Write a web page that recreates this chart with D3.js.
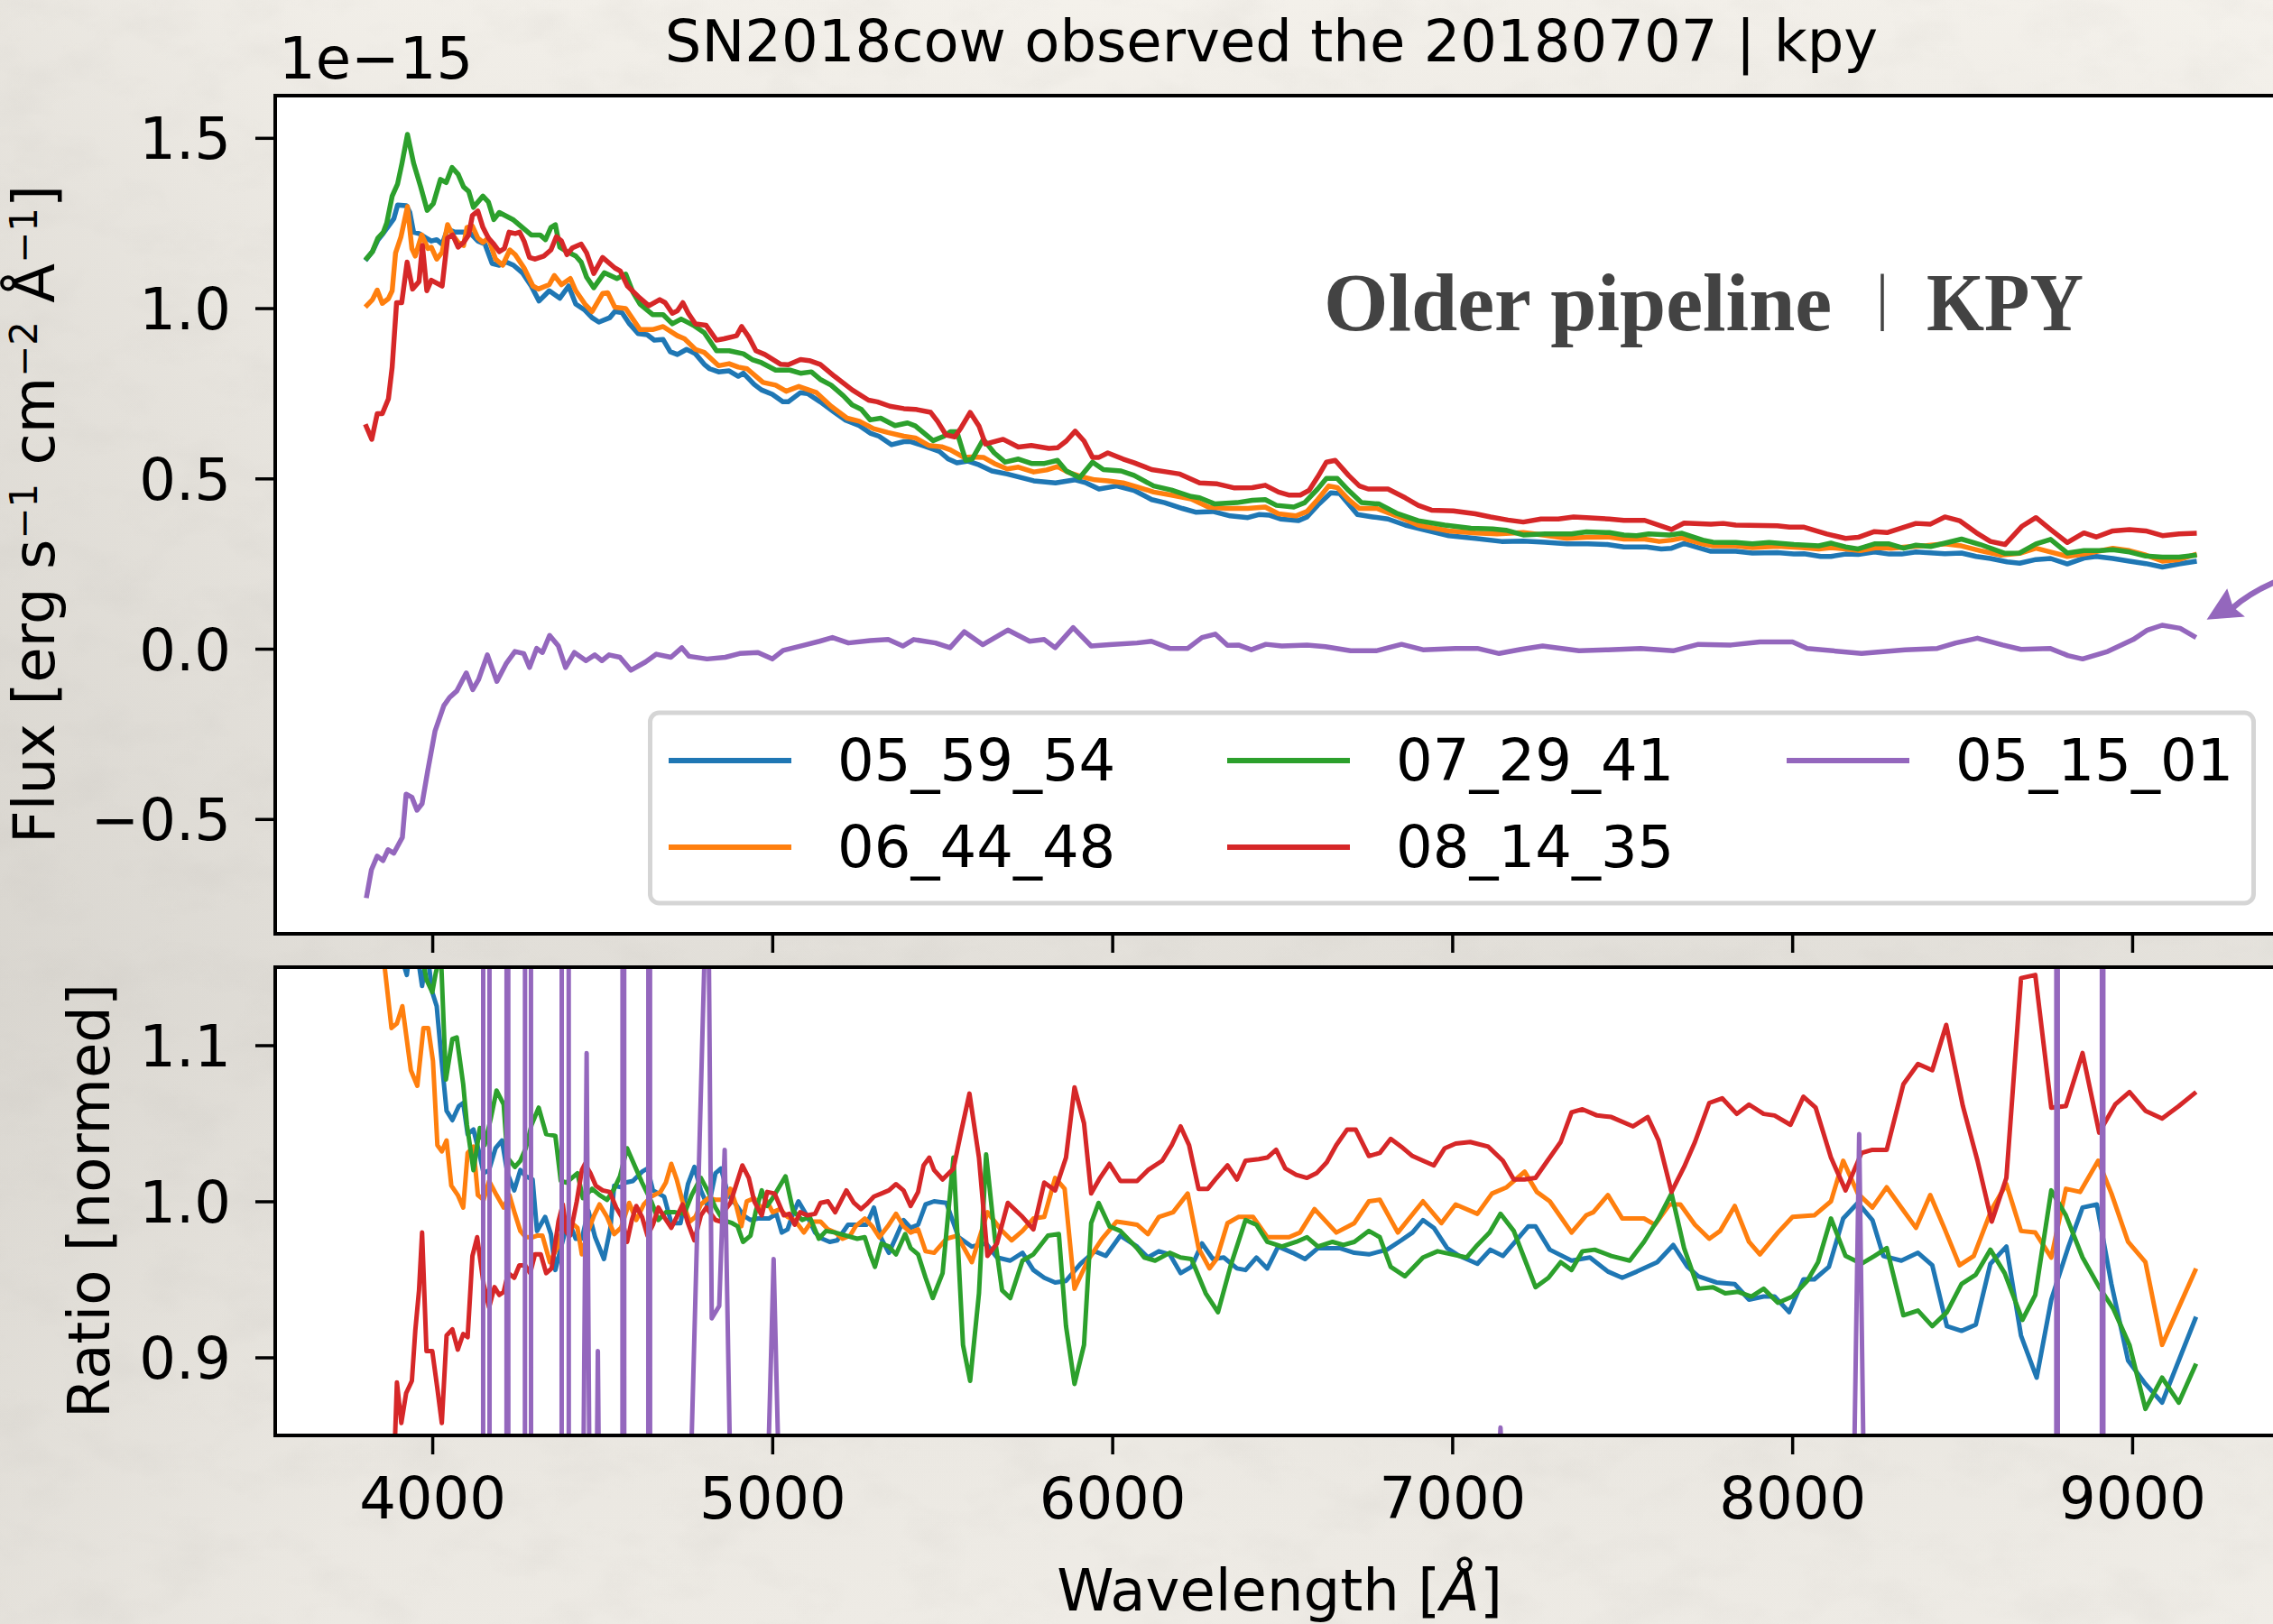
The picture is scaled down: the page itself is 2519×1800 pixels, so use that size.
<!DOCTYPE html>
<html>
<head>
<meta charset="utf-8">
<script src="https://cdn.jsdelivr.net/npm/d3@7"></script>
<style>
  html, body { margin: 0; padding: 0; background: #eae7e1; }
  svg { display: block; }
</style>
</head>
<body>
<svg id="fig" width="2519" height="1800"></svg>
<script>
// ---------------------------------------------------------------
// SN2018cow, KPY reductions of 2018-07-07: flux (1e-15 cgs) and
// ratio-to-mean for five exposures. Each entry is [wavelength Å, value].
// ---------------------------------------------------------------
const labels = ["05_59_54", "06_44_48", "07_29_41", "08_14_35", "05_15_01"];
const colors = ["#1f77b4", "#ff7f0e", "#2ca02c", "#d62728", "#9467bd"];

const flux_055954 = [[3803,1.140],[3824,1.166],[3840,1.200],[3856,1.220],[3871,1.241],[3887,1.263],[3898,1.303],[3924,1.301],[3934,1.281],[3945,1.223],[3961,1.219],[3982,1.206],[3997,1.197],[4013,1.201],[4029,1.188],[4045,1.232],[4066,1.223],[4092,1.223],[4113,1.219],[4134,1.197],[4155,1.188],[4176,1.131],[4197,1.126],[4218,1.135],[4239,1.126],[4265,1.104],[4291,1.065],[4314,1.021],[4344,1.051],[4375,1.029],[4401,1.065],[4422,1.012],[4449,0.994],[4470,0.972],[4490,0.959],[4522,0.972],[4537,0.990],[4558,0.987],[4580,0.954],[4606,0.925],[4632,0.922],[4653,0.906],[4679,0.908],[4700,0.872],[4721,0.864],[4748,0.879],[4774,0.866],[4800,0.835],[4816,0.822],[4842,0.813],[4873,0.816],[4900,0.800],[4915,0.809],[4947,0.776],[4968,0.760],[5000,0.747],[5031,0.725],[5047,0.725],[5083,0.752],[5104,0.749],[5141,0.725],[5183,0.694],[5214,0.672],[5256,0.655],[5288,0.633],[5314,0.624],[5351,0.599],[5387,0.608],[5408,0.608],[5453,0.593],[5492,0.579],[5518,0.557],[5543,0.546],[5576,0.551],[5608,0.540],[5646,0.522],[5691,0.513],[5769,0.493],[5833,0.487],[5891,0.496],[5923,0.487],[5961,0.469],[6013,0.478],[6064,0.465],[6116,0.438],[6154,0.429],[6206,0.412],[6245,0.401],[6296,0.403],[6347,0.390],[6399,0.385],[6431,0.394],[6463,0.392],[6495,0.381],[6547,0.376],[6573,0.387],[6604,0.421],[6643,0.458],[6669,0.456],[6721,0.394],[6766,0.387],[6811,0.381],[6862,0.363],[6913,0.350],[6990,0.332],[7068,0.324],[7145,0.315],[7209,0.316],[7273,0.313],[7338,0.308],[7399,0.308],[7456,0.306],[7505,0.299],[7572,0.299],[7615,0.293],[7645,0.295],[7682,0.309],[7761,0.286],[7834,0.286],[7883,0.281],[7956,0.282],[8005,0.278],[8035,0.279],[8084,0.271],[8114,0.271],[8157,0.278],[8194,0.277],[8242,0.284],[8285,0.278],[8322,0.278],[8364,0.284],[8449,0.279],[8498,0.281],[8541,0.271],[8583,0.265],[8632,0.255],[8669,0.251],[8717,0.262],[8760,0.265],[8809,0.249],[8858,0.266],[8894,0.271],[8943,0.265],[8992,0.257],[9040,0.250],[9089,0.240],[9138,0.249],[9190,0.257]];

const flux_064448 = [[3803,1.003],[3824,1.025],[3838,1.053],[3853,1.014],[3871,1.028],[3882,1.051],[3892,1.162],[3908,1.210],[3927,1.298],[3940,1.175],[3950,1.153],[3969,1.215],[3987,1.175],[3997,1.179],[4013,1.144],[4029,1.164],[4045,1.245],[4060,1.215],[4076,1.193],[4092,1.184],[4102,1.237],[4118,1.241],[4134,1.206],[4149,1.193],[4165,1.206],[4186,1.144],[4207,1.126],[4228,1.171],[4244,1.157],[4270,1.118],[4296,1.065],[4312,1.056],[4344,1.069],[4359,1.096],[4380,1.069],[4406,1.087],[4422,1.051],[4449,1.012],[4470,0.990],[4501,1.043],[4516,1.045],[4537,1.003],[4569,0.999],[4611,0.937],[4648,0.937],[4679,0.946],[4721,0.919],[4742,0.910],[4774,0.879],[4800,0.870],[4842,0.831],[4873,0.837],[4900,0.827],[4926,0.822],[4973,0.782],[5010,0.774],[5041,0.756],[5078,0.770],[5130,0.752],[5173,0.712],[5220,0.677],[5256,0.668],[5298,0.646],[5340,0.635],[5387,0.624],[5421,0.619],[5460,0.597],[5498,0.593],[5524,0.584],[5563,0.562],[5588,0.563],[5621,0.562],[5653,0.544],[5691,0.528],[5724,0.533],[5769,0.519],[5807,0.525],[5839,0.535],[5871,0.518],[5910,0.505],[5949,0.496],[5987,0.493],[6032,0.487],[6077,0.474],[6122,0.460],[6174,0.451],[6232,0.440],[6283,0.416],[6335,0.412],[6399,0.412],[6450,0.416],[6489,0.396],[6540,0.390],[6573,0.403],[6604,0.438],[6637,0.478],[6662,0.473],[6695,0.438],[6727,0.412],[6778,0.412],[6836,0.390],[6900,0.363],[6990,0.346],[7068,0.340],[7132,0.337],[7209,0.341],[7273,0.333],[7338,0.324],[7395,0.327],[7462,0.328],[7505,0.322],[7566,0.322],[7609,0.315],[7645,0.319],[7676,0.325],[7737,0.308],[7767,0.302],[7834,0.302],[7883,0.297],[7956,0.301],[8029,0.297],[8078,0.293],[8114,0.297],[8157,0.293],[8200,0.288],[8248,0.297],[8291,0.295],[8334,0.299],[8395,0.303],[8449,0.308],[8498,0.302],[8553,0.288],[8614,0.275],[8669,0.280],[8717,0.295],[8760,0.284],[8809,0.271],[8858,0.278],[8943,0.295],[8992,0.288],[9040,0.275],[9089,0.257],[9138,0.262],[9190,0.278]];

const flux_072941 = [[3803,1.141],[3824,1.166],[3840,1.206],[3856,1.223],[3866,1.250],[3882,1.329],[3898,1.365],[3911,1.426],[3927,1.510],[3945,1.426],[3966,1.356],[3985,1.287],[4003,1.307],[4024,1.378],[4041,1.369],[4058,1.413],[4076,1.393],[4092,1.356],[4107,1.343],[4121,1.296],[4149,1.329],[4165,1.312],[4181,1.260],[4197,1.281],[4239,1.259],[4265,1.237],[4291,1.215],[4317,1.215],[4333,1.201],[4349,1.237],[4362,1.245],[4375,1.179],[4396,1.166],[4422,1.153],[4438,1.135],[4454,1.091],[4475,1.060],[4506,1.104],[4543,1.087],[4569,1.100],[4590,1.047],[4611,1.012],[4648,0.981],[4679,0.981],[4706,0.954],[4732,0.968],[4768,0.950],[4800,0.928],[4836,0.875],[4873,0.875],[4915,0.866],[4941,0.849],[4968,0.840],[5010,0.818],[5052,0.818],[5083,0.809],[5115,0.813],[5141,0.791],[5173,0.774],[5209,0.743],[5235,0.716],[5262,0.703],[5288,0.672],[5319,0.677],[5361,0.655],[5398,0.663],[5421,0.654],[5473,0.611],[5505,0.624],[5524,0.637],[5543,0.637],[5569,0.553],[5588,0.557],[5621,0.615],[5653,0.575],[5685,0.548],[5724,0.557],[5762,0.544],[5801,0.544],[5839,0.553],[5865,0.522],[5904,0.502],[5942,0.548],[5974,0.526],[6026,0.522],[6064,0.509],[6122,0.478],[6174,0.466],[6232,0.447],[6257,0.443],[6302,0.425],[6367,0.429],[6412,0.436],[6450,0.438],[6483,0.421],[6534,0.416],[6566,0.429],[6604,0.469],[6630,0.500],[6662,0.500],[6695,0.465],[6733,0.429],[6785,0.425],[6836,0.398],[6900,0.376],[6978,0.363],[7055,0.354],[7119,0.352],[7158,0.348],[7209,0.334],[7273,0.337],[7351,0.337],[7395,0.343],[7462,0.341],[7505,0.334],[7542,0.332],[7578,0.337],[7639,0.334],[7676,0.339],[7737,0.319],[7767,0.313],[7834,0.312],[7883,0.308],[7932,0.312],[8005,0.306],[8078,0.302],[8114,0.310],[8157,0.299],[8194,0.293],[8242,0.308],[8285,0.308],[8328,0.295],[8364,0.304],[8407,0.300],[8449,0.310],[8498,0.322],[8553,0.306],[8626,0.280],[8669,0.281],[8717,0.308],[8760,0.321],[8809,0.281],[8858,0.288],[8906,0.288],[8943,0.291],[8992,0.284],[9040,0.272],[9089,0.269],[9138,0.269],[9190,0.275]];

const flux_081435 = [[3803,0.659],[3822,0.615],[3838,0.690],[3853,0.690],[3871,0.734],[3882,0.827],[3895,1.016],[3910,1.016],[3926,1.135],[3942,1.056],[3961,1.078],[3971,1.184],[3984,1.051],[3997,1.082],[4029,1.065],[4045,1.206],[4060,1.215],[4076,1.179],[4092,1.193],[4107,1.215],[4118,1.272],[4134,1.285],[4149,1.237],[4165,1.206],[4181,1.188],[4197,1.166],[4212,1.175],[4226,1.223],[4244,1.219],[4257,1.223],[4270,1.197],[4286,1.149],[4302,1.144],[4328,1.153],[4349,1.171],[4365,1.210],[4380,1.197],[4396,1.157],[4412,1.177],[4438,1.188],[4454,1.162],[4475,1.102],[4501,1.149],[4537,1.118],[4553,1.109],[4574,1.065],[4606,1.034],[4637,1.007],[4669,1.025],[4685,1.016],[4706,0.985],[4721,0.992],[4737,1.016],[4753,0.985],[4774,0.954],[4805,0.950],[4836,0.906],[4858,0.910],[4895,0.919],[4910,0.946],[4931,0.915],[4952,0.875],[4978,0.864],[5025,0.835],[5047,0.834],[5083,0.849],[5109,0.846],[5141,0.835],[5183,0.800],[5235,0.760],[5283,0.730],[5309,0.725],[5346,0.712],[5387,0.705],[5421,0.703],[5466,0.694],[5486,0.668],[5511,0.628],[5537,0.622],[5556,0.650],[5582,0.694],[5608,0.654],[5627,0.601],[5679,0.615],[5724,0.592],[5762,0.597],[5814,0.588],[5839,0.590],[5865,0.610],[5891,0.639],[5917,0.610],[5942,0.562],[5961,0.562],[5987,0.575],[6032,0.557],[6064,0.546],[6116,0.526],[6161,0.519],[6199,0.513],[6257,0.487],[6309,0.484],[6360,0.472],[6412,0.473],[6450,0.480],[6489,0.460],[6521,0.451],[6553,0.451],[6579,0.465],[6604,0.504],[6630,0.548],[6656,0.553],[6695,0.509],[6727,0.478],[6753,0.469],[6811,0.469],[6862,0.443],[6900,0.421],[6939,0.407],[7003,0.405],[7068,0.396],[7113,0.387],[7164,0.378],[7209,0.372],[7261,0.381],[7312,0.381],[7357,0.387],[7395,0.385],[7462,0.381],[7505,0.377],[7566,0.377],[7645,0.350],[7682,0.369],[7761,0.366],[7797,0.368],[7834,0.363],[7956,0.361],[7992,0.357],[8035,0.357],[8102,0.337],[8157,0.324],[8194,0.327],[8242,0.344],[8279,0.341],[8364,0.368],[8407,0.366],[8449,0.387],[8492,0.376],[8541,0.341],[8583,0.315],[8626,0.306],[8675,0.359],[8717,0.385],[8760,0.350],[8809,0.312],[8858,0.340],[8894,0.328],[8943,0.346],[8992,0.350],[9040,0.346],[9089,0.332],[9138,0.337],[9190,0.339]];

const flux_051501 = [[3806,-0.732],[3821,-0.649],[3838,-0.609],[3855,-0.622],[3870,-0.590],[3887,-0.600],[3912,-0.554],[3923,-0.427],[3940,-0.436],[3955,-0.474],[3970,-0.455],[3987,-0.356],[4008,-0.242],[4034,-0.167],[4051,-0.143],[4072,-0.124],[4100,-0.071],[4119,-0.120],[4136,-0.091],[4162,-0.018],[4190,-0.096],[4217,-0.044],[4243,-0.008],[4269,-0.014],[4286,-0.055],[4307,0.001],[4324,-0.011],[4345,0.039],[4371,0.008],[4392,-0.055],[4418,-0.011],[4452,-0.035],[4478,-0.018],[4499,-0.035],[4520,-0.018],[4552,-0.025],[4584,-0.063],[4627,-0.039],[4659,-0.016],[4702,-0.025],[4734,0.003],[4755,-0.022],[4808,-0.030],[4862,-0.025],[4904,-0.014],[4958,-0.011],[5000,-0.030],[5032,-0.005],[5096,0.011],[5139,0.022],[5177,0.033],[5224,0.017],[5288,0.024],[5341,0.027],[5384,0.008],[5416,0.027],[5480,0.017],[5523,0.003],[5565,0.050],[5619,0.012],[5693,0.055],[5757,0.022],[5800,0.027],[5832,0.003],[5885,0.062],[5938,0.008],[5992,0.012],[6073,0.017],[6115,0.022],[6169,0.001],[6222,0.001],[6264,0.033],[6303,0.043],[6339,0.010],[6371,0.011],[6409,-0.003],[6452,0.013],[6499,0.008],[6573,0.011],[6627,0.006],[6701,-0.006],[6776,-0.006],[6851,0.013],[6914,-0.003],[7010,0.001],[7074,0.001],[7138,-0.014],[7202,-0.002],[7266,0.008],[7373,-0.006],[7458,-0.003],[7554,0.001],[7650,-0.006],[7724,0.013],[7820,0.011],[7905,0.020],[8001,0.020],[8044,0.001],[8204,-0.014],[8332,-0.003],[8427,0.001],[8481,0.017],[8545,0.031],[8619,0.011],[8673,-0.002],[8758,0.001],[8811,-0.020],[8854,-0.030],[8928,-0.008],[9003,0.027],[9045,0.055],[9088,0.069],[9141,0.060],[9188,0.033]];

const ratio_055954 = [[3803,1.250],[3824,1.220],[3840,1.200],[3856,1.190],[3871,1.180],[3887,1.170],[3905,1.160],[3925,1.145],[3940,1.170],[3955,1.160],[3970,1.138],[3985,1.160],[4000,1.134],[4013,1.125],[4028,1.089],[4042,1.058],[4059,1.052],[4078,1.061],[4091,1.063],[4104,1.043],[4121,1.046],[4137,1.032],[4151,1.018],[4167,1.020],[4186,1.034],[4205,1.039],[4221,1.018],[4241,1.007],[4259,1.020],[4275,1.016],[4295,1.014],[4308,0.981],[4332,0.990],[4349,0.979],[4362,0.956],[4378,0.970],[4400,0.988],[4422,0.976],[4440,0.976],[4459,0.994],[4479,0.977],[4505,0.963],[4524,0.983],[4535,1.010],[4555,1.009],[4568,1.012],[4590,1.013],[4617,1.019],[4633,1.021],[4649,1.007],[4682,1.003],[4703,0.986],[4730,0.986],[4752,1.011],[4771,1.022],[4790,1.007],[4812,0.996],[4833,1.018],[4849,1.021],[4871,1.004],[4893,0.998],[4915,0.991],[4936,0.988],[4958,0.989],[4990,0.989],[5012,0.992],[5028,0.980],[5045,0.982],[5061,0.992],[5077,1.000],[5104,0.990],[5126,0.980],[5147,0.976],[5169,0.974],[5191,0.975],[5223,0.985],[5250,0.985],[5277,0.985],[5299,0.996],[5321,0.976],[5343,0.967],[5364,0.977],[5386,0.988],[5407,0.983],[5429,0.985],[5451,0.998],[5476,1.000],[5512,0.999],[5548,0.977],[5587,0.971],[5629,0.973],[5661,0.964],[5700,0.962],[5736,0.967],[5768,0.956],[5800,0.951],[5832,0.948],[5864,0.949],[5907,0.960],[5949,0.968],[5981,0.965],[6024,0.978],[6073,0.971],[6105,0.964],[6137,0.968],[6169,0.966],[6201,0.954],[6233,0.958],[6264,0.973],[6296,0.963],[6328,0.964],[6367,0.957],[6392,0.956],[6424,0.964],[6456,0.957],[6488,0.971],[6531,0.967],[6567,0.963],[6605,0.970],[6669,0.970],[6712,0.967],[6755,0.966],[6808,0.969],[6850,0.975],[6883,0.980],[6914,0.988],[6946,0.983],[6985,0.970],[7021,0.965],[7074,0.960],[7112,0.969],[7149,0.965],[7181,0.973],[7224,0.984],[7245,0.984],[7287,0.969],[7351,0.962],[7405,0.964],[7458,0.955],[7500,0.951],[7543,0.955],[7603,0.961],[7650,0.972],[7692,0.958],[7724,0.952],[7777,0.948],[7831,0.947],[7873,0.937],[7916,0.939],[7948,0.939],[7991,0.929],[8033,0.950],[8065,0.950],[8108,0.958],[8150,0.989],[8193,0.999],[8236,0.988],[8268,0.965],[8321,0.962],[8370,0.967],[8412,0.959],[8455,0.920],[8498,0.917],[8540,0.921],[8583,0.960],[8630,0.971],[8673,0.914],[8719,0.887],[8762,0.937],[8811,0.970],[8854,0.996],[8896,0.998],[8939,0.947],[8988,0.898],[9039,0.883],[9088,0.871],[9137,0.898],[9188,0.926]];

const ratio_064448 = [[3803,1.250],[3824,1.220],[3840,1.190],[3860,1.150],[3880,1.111],[3896,1.114],[3912,1.125],[3937,1.084],[3956,1.074],[3974,1.111],[3988,1.111],[4002,1.090],[4015,1.036],[4028,1.032],[4042,1.039],[4056,1.010],[4075,1.004],[4091,0.996],[4104,1.031],[4121,1.035],[4134,1.004],[4151,1.001],[4167,1.013],[4189,1.004],[4210,0.996],[4227,1.004],[4243,0.992],[4259,0.981],[4275,0.977],[4295,0.977],[4308,0.978],[4324,0.978],[4346,0.961],[4367,0.970],[4384,0.983],[4405,0.987],[4427,0.983],[4440,0.966],[4457,0.980],[4476,0.991],[4492,0.998],[4514,0.990],[4535,0.979],[4555,0.983],[4579,0.999],[4600,0.988],[4622,0.998],[4644,1.003],[4671,1.006],[4687,1.012],[4703,1.024],[4719,1.014],[4736,1.000],[4757,0.987],[4774,0.990],[4790,0.998],[4812,1.002],[4833,1.001],[4860,1.001],[4877,1.008],[4893,0.998],[4909,0.984],[4925,1.000],[4947,1.002],[4969,0.995],[4985,1.000],[5001,0.993],[5023,0.995],[5045,0.990],[5066,0.988],[5093,0.980],[5115,0.987],[5142,0.987],[5164,0.982],[5185,0.980],[5207,0.976],[5229,0.978],[5245,0.984],[5272,0.989],[5294,0.984],[5315,0.977],[5343,0.985],[5364,0.992],[5386,0.984],[5407,0.980],[5429,0.982],[5451,0.968],[5476,0.967],[5512,0.976],[5544,0.978],[5587,0.961],[5633,0.993],[5672,0.982],[5704,0.975],[5736,0.981],[5768,0.989],[5800,0.990],[5832,1.015],[5860,1.008],[5889,0.944],[5928,0.962],[5970,0.976],[6013,0.987],[6045,0.986],[6073,0.985],[6105,0.979],[6137,0.990],[6179,0.993],[6222,1.005],[6254,0.970],[6286,0.957],[6307,0.963],[6339,0.986],[6371,0.990],[6414,0.990],[6456,0.977],[6520,0.977],[6552,0.980],[6595,0.995],[6659,0.980],[6712,0.986],[6755,1.000],[6787,1.001],[6840,0.980],[6914,1.000],[6968,0.986],[7010,0.998],[7074,0.992],[7117,1.005],[7160,1.009],[7213,1.019],[7249,1.006],[7287,1.000],[7351,0.980],[7394,0.991],[7415,0.993],[7458,1.004],[7500,0.989],[7564,0.989],[7596,0.985],[7639,0.998],[7671,0.998],[7714,0.985],[7756,0.976],[7788,0.981],[7831,0.997],[7873,0.974],[7905,0.966],[7958,0.980],[8001,0.990],[8065,0.991],[8114,1.000],[8150,1.026],[8193,1.005],[8236,0.996],[8278,1.009],[8321,0.996],[8364,0.983],[8406,1.004],[8449,0.982],[8492,0.959],[8534,0.965],[8587,0.995],[8630,1.011],[8673,0.981],[8715,0.980],[8762,0.964],[8805,1.008],[8847,1.006],[8900,1.026],[8939,1.005],[8988,0.974],[9039,0.961],[9088,0.908],[9137,0.932],[9188,0.957]];

const ratio_072941 = [[3803,1.300],[3824,1.280],[3840,1.260],[3860,1.250],[3880,1.240],[3900,1.220],[3920,1.210],[3940,1.200],[3960,1.170],[3983,1.142],[4000,1.134],[4010,1.146],[4025,1.160],[4040,1.078],[4059,1.104],[4072,1.105],[4091,1.075],[4102,1.049],[4121,1.020],[4140,1.047],[4154,1.036],[4172,1.053],[4189,1.071],[4210,1.062],[4221,1.028],[4243,1.022],[4259,1.026],[4275,1.034],[4292,1.049],[4313,1.060],[4335,1.043],[4362,1.042],[4378,1.013],[4395,1.012],[4416,1.016],[4427,1.018],[4443,1.002],[4470,1.008],[4492,1.004],[4514,1.001],[4535,1.008],[4552,1.016],[4573,1.034],[4595,1.023],[4617,1.012],[4644,1.000],[4665,0.988],[4687,0.993],[4714,0.993],[4741,0.992],[4763,1.004],[4790,1.015],[4812,1.006],[4833,0.996],[4855,0.988],[4882,0.986],[4898,0.984],[4914,0.974],[4936,0.978],[4952,0.994],[4969,1.007],[4985,0.997],[5001,1.002],[5017,1.008],[5039,1.016],[5061,0.994],[5088,0.988],[5110,0.990],[5137,0.976],[5158,0.981],[5185,0.980],[5218,0.978],[5250,0.976],[5272,0.977],[5288,0.966],[5302,0.958],[5321,0.973],[5343,0.971],[5364,0.966],[5391,0.979],[5407,0.970],[5429,0.966],[5451,0.951],[5472,0.938],[5501,0.954],[5533,1.028],[5561,0.908],[5582,0.885],[5608,0.941],[5629,1.030],[5655,0.976],[5676,0.943],[5700,0.938],[5736,0.962],[5768,0.966],[5811,0.978],[5843,0.979],[5864,0.920],[5889,0.883],[5917,0.908],[5938,0.986],[5960,0.999],[5992,0.984],[6024,0.981],[6073,0.970],[6094,0.964],[6126,0.962],[6169,0.967],[6201,0.964],[6233,0.963],[6275,0.941],[6311,0.929],[6350,0.960],[6392,0.988],[6424,0.985],[6456,0.974],[6499,0.971],[6541,0.974],[6573,0.977],[6605,0.971],[6648,0.974],[6680,0.972],[6712,0.974],[6755,0.981],[6787,0.977],[6819,0.958],[6861,0.952],[6914,0.964],[6957,0.968],[7000,0.966],[7042,0.964],[7074,0.972],[7110,0.980],[7142,0.992],[7181,0.981],[7213,0.963],[7245,0.945],[7283,0.951],[7319,0.961],[7351,0.956],[7383,0.968],[7419,0.969],[7468,0.965],[7522,0.962],[7564,0.974],[7607,0.989],[7645,1.005],[7682,0.970],[7724,0.944],[7767,0.945],[7803,0.941],[7841,0.942],[7880,0.939],[7916,0.944],[7958,0.935],[8001,0.939],[8044,0.949],[8076,0.961],[8114,0.989],[8157,0.965],[8204,0.960],[8242,0.965],[8278,0.970],[8327,0.927],[8370,0.930],[8412,0.920],[8455,0.929],[8498,0.947],[8540,0.953],[8583,0.969],[8625,0.954],[8677,0.924],[8715,0.940],[8762,1.007],[8805,0.991],[8854,0.964],[8903,0.945],[8945,0.931],[8992,0.908],[9039,0.867],[9088,0.887],[9137,0.871],[9188,0.896]];

const ratio_081435 = [[3803,0.600],[3822,0.550],[3838,0.650],[3853,0.660],[3871,0.720],[3886,0.820],[3896,0.884],[3909,0.858],[3923,0.877],[3940,0.885],[3950,0.917],[3961,0.943],[3970,0.980],[3983,0.904],[4000,0.904],[4015,0.880],[4028,0.858],[4042,0.914],[4059,0.918],[4075,0.905],[4091,0.915],[4104,0.913],[4118,0.965],[4132,0.977],[4151,0.947],[4167,0.932],[4183,0.945],[4197,0.940],[4210,0.942],[4223,0.954],[4241,0.951],[4256,0.959],[4273,0.959],[4288,0.954],[4302,0.966],[4319,0.966],[4335,0.954],[4351,0.957],[4371,0.987],[4384,0.998],[4395,0.980],[4405,0.978],[4425,1.000],[4440,1.020],[4449,1.024],[4465,1.018],[4481,1.010],[4501,1.007],[4522,1.006],[4541,0.996],[4557,0.990],[4573,0.974],[4587,0.988],[4600,0.997],[4617,0.990],[4633,0.978],[4649,0.985],[4665,0.996],[4682,0.990],[4703,0.983],[4719,0.990],[4736,0.998],[4752,0.986],[4771,0.975],[4790,0.991],[4806,0.996],[4833,0.988],[4849,0.987],[4860,0.994],[4877,0.999],[4893,1.010],[4912,1.023],[4931,1.015],[4947,1.000],[4969,0.991],[4985,1.006],[5007,1.005],[5034,0.991],[5050,0.992],[5066,0.985],[5082,0.993],[5104,0.991],[5126,0.992],[5142,0.999],[5164,1.000],[5185,0.993],[5218,1.007],[5240,0.999],[5261,0.995],[5277,0.998],[5299,1.003],[5321,1.005],[5343,1.007],[5364,1.011],[5386,1.007],[5407,0.997],[5429,1.006],[5445,1.023],[5462,1.028],[5476,1.020],[5501,1.014],[5533,1.021],[5555,1.044],[5580,1.069],[5608,1.028],[5633,0.965],[5661,0.973],[5693,0.999],[5736,0.990],[5768,0.982],[5800,1.012],[5832,1.007],[5864,1.028],[5889,1.073],[5917,1.050],[5938,1.005],[5964,1.015],[5992,1.024],[6024,1.013],[6073,1.013],[6105,1.020],[6147,1.026],[6175,1.036],[6201,1.048],[6226,1.036],[6254,1.008],[6281,1.008],[6307,1.015],[6339,1.023],[6367,1.014],[6392,1.026],[6431,1.027],[6456,1.028],[6482,1.033],[6509,1.021],[6541,1.017],[6573,1.015],[6601,1.018],[6631,1.025],[6659,1.036],[6691,1.046],[6716,1.046],[6755,1.029],[6787,1.031],[6819,1.040],[6850,1.035],[6883,1.029],[6914,1.026],[6946,1.023],[6978,1.034],[7010,1.037],[7053,1.038],[7106,1.035],[7149,1.026],[7181,1.014],[7213,1.014],[7245,1.015],[7277,1.025],[7319,1.038],[7351,1.057],[7383,1.059],[7426,1.055],[7468,1.054],[7532,1.048],[7575,1.054],[7607,1.039],[7645,1.006],[7682,1.022],[7714,1.038],[7756,1.063],[7794,1.066],[7837,1.056],[7873,1.062],[7916,1.056],[7948,1.055],[7995,1.049],[8033,1.067],[8069,1.060],[8114,1.028],[8157,1.007],[8204,1.031],[8236,1.033],[8278,1.033],[8327,1.075],[8370,1.088],[8412,1.084],[8453,1.113],[8502,1.061],[8545,1.026],[8587,0.987],[8630,1.015],[8673,1.143],[8715,1.145],[8762,1.060],[8805,1.061],[8854,1.095],[8903,1.044],[8950,1.062],[8992,1.070],[9039,1.058],[9088,1.053],[9137,1.061],[9188,1.070]];

// near-zero flux makes this ratio swing far outside the shown range
const ratio_051501 = [[3806,-6],[4145,-6],[4153,6],[4165,6],[4173,-6],[4215,-6],[4221,6],[4227,-6],[4268,-6],[4276,6],[4287,6],[4295,-6],[4376,-6],[4384,6],[4398,6],[4406,-6],[4440,0.7],[4454,1.095],[4466,0.7],[4479,0.7],[4487,0.904],[4495,0.7],[4556,-6],[4562,6],[4568,-6],[4632,-6],[4638,6],[4644,-6],[4700,0.5],[4757,0.80],[4806,1.20],[4812,1.20],[4822,0.925],[4844,0.933],[4860,1.033],[4877,0.82],[4930,0.5],[4984,0.80],[5004,0.963],[5022,0.80],[5100,0.5],[7000,0.5],[7130,0.80],[7142,0.855],[7154,0.80],[7300,0.5],[8100,0.5],[8180,0.80],[8197,1.043],[8212,0.80],[8400,0.5],[8774,-6],[8779,6],[8784,-6],[8908,-6],[8913,6],[8918,-6],[9188,-6]];

const fluxSeries  = [flux_055954, flux_064448, flux_072941, flux_081435, flux_051501];
const ratioSeries = [ratio_055954, ratio_064448, ratio_072941, ratio_081435, ratio_051501];

const xTicks      = [4000, 5000, 6000, 7000, 8000, 9000];
const fluxTicks   = [-0.5, 0.0, 0.5, 1.0, 1.5];
const ratioTicks  = [0.9, 1.0, 1.1];

const titleText  = "SN2018cow observed the 20180707 | kpy";
const offsetText = "1e\u221215";
const xLabelText = "Wavelength";
const ratioLabel = "Ratio [normed]";

// ---------------------------------------------------------------
const W = 2519, H = 1800;
const FONT = "'DejaVu Sans', 'Noto Sans', sans-serif";
const FS = 64;
const svg = d3.select("#fig");
const defs = svg.append("defs");

// paper-like figure background
const bg = defs.append("linearGradient").attr("id", "bgShade")
  .attr("x1", 0).attr("y1", 0).attr("x2", 0).attr("y2", 1);
[[0, "#f4f1eb"], [0.12, "#efece6"], [0.45, "#e6e3dd"], [0.62, "#e3e0da"], [0.85, "#ebe8e2"], [1, "#efece6"]]
  .forEach(([o, c]) => bg.append("stop").attr("offset", o).attr("stop-color", c));
const side = defs.append("linearGradient").attr("id", "sideShade")
  .attr("x1", 0).attr("y1", 0).attr("x2", 1).attr("y2", 0);
[[0, "rgba(90,85,75,0.07)"], [0.15, "rgba(90,85,75,0.02)"], [0.5, "rgba(90,85,75,0)"], [1, "rgba(255,255,250,0.05)"]]
  .forEach(([o, c]) => side.append("stop").attr("offset", o).attr("stop-color", c));

const grain = defs.append("filter").attr("id", "grain")
  .attr("x", 0).attr("y", 0).attr("width", "100%").attr("height", "100%");
grain.append("feTurbulence").attr("type", "fractalNoise")
  .attr("baseFrequency", "0.012 0.02").attr("numOctaves", 4).attr("seed", 7).attr("result", "n");
grain.append("feColorMatrix").attr("in", "n").attr("type", "matrix")
  .attr("values", "0 0 0 0 0.45  0 0 0 0 0.43  0 0 0 0 0.40  1.2 0 0 0 -0.55");

svg.append("rect").attr("width", W).attr("height", H).attr("fill", "url(#bgShade)");
svg.append("rect").attr("width", W).attr("height", H).attr("fill", "url(#sideShade)");
svg.append("rect").attr("width", W).attr("height", H).attr("filter", "url(#grain)").attr("opacity", 0.18);

// ---------------------------------------------------------------
// layout
const axL = 305, axR = 2534;
const top1 = 106, bot1 = 1035;
const top2 = 1072, bot2 = 1591;

const x  = d3.scaleLinear().domain([3538, 9454]).range([axL, axR]);
const y1 = d3.scaleLinear().domain([-0.837, 1.624]).range([bot1, top1]);
const y2 = d3.scaleLinear().domain([0.85, 1.15]).range([bot2, top2]);

const fmt = d => d3.format(".1f")(d).replace("-", "\u2212");

function panel(id, top, bot, y, series, lw, yTicks, showXLabels) {
  const g = svg.append("g").attr("class", id);
  defs.append("clipPath").attr("id", "clip-" + id)
    .append("rect").attr("x", axL).attr("y", top).attr("width", axR - axL).attr("height", bot - top);
  g.append("rect").attr("x", axL).attr("y", top).attr("width", axR - axL).attr("height", bot - top)
    .attr("fill", "#ffffff");

  const line = d3.line().x(d => x(d[0])).y(d => y(d[1]));
  g.append("g").attr("clip-path", `url(#clip-${id})`)
    .selectAll("path").data(series).join("path")
    .attr("d", line)
    .attr("fill", "none")
    .attr("stroke", (d, i) => colors[i])
    .attr("stroke-width", lw)
    .attr("stroke-linejoin", "round")
    .attr("stroke-linecap", "butt");

  // y axis
  const ya = g.append("g").attr("transform", `translate(${axL},0)`)
    .call(d3.axisLeft(y).tickValues(yTicks).tickFormat(fmt).tickSize(22).tickPadding(27));
  // x axis
  const xa = g.append("g").attr("transform", `translate(0,${bot})`)
    .call(d3.axisBottom(x).tickValues(xTicks).tickSize(21).tickPadding(26)
      .tickFormat(showXLabels ? d3.format("d") : () => ""));
  [ya, xa].forEach(a => {
    a.select(".domain").remove();
    a.selectAll(".tick line").attr("stroke", "#000").attr("stroke-width", 3.5);
    a.selectAll(".tick text").attr("fill", "#000")
      .style("font-family", FONT).style("font-size", FS + "px");
  });
  ya.selectAll(".tick text").attr("dy", "0.36em");

  // spines
  g.append("rect").attr("x", axL).attr("y", top).attr("width", axR - axL).attr("height", bot - top)
    .attr("fill", "none").attr("stroke", "#000").attr("stroke-width", 4);
  return g;
}

panel("flux", top1, bot1, y1, fluxSeries, 5.5, fluxTicks, false);
panel("ratio", top2, bot2, y2, ratioSeries, 5, ratioTicks, true);

// ---------------------------------------------------------------
// texts
const txt = (xx, yy, s, extra = {}) => {
  const t = svg.append("text").attr("x", xx).attr("y", yy).text(s)
    .style("font-family", FONT).style("font-size", FS + "px").attr("fill", "#000");
  Object.entries(extra).forEach(([k, v]) => t.attr(k, v));
  return t;
};

txt(1409, 68, titleText, {"text-anchor": "middle"});
txt(309, 87, offsetText);

// x label with italic Ångström symbol
const xl = txt(1418, 1785, xLabelText + " [", {"text-anchor": "middle"});
xl.append("tspan").attr("font-style", "italic").text("\u00C5");
xl.append("tspan").text("]");

// flux y label with superscripts
const fl = svg.append("text")
  .attr("transform", `translate(60,570) rotate(-90)`)
  .attr("text-anchor", "middle")
  .style("font-family", FONT).style("font-size", FS + "px").attr("fill", "#000");
const SUP = 42, RISE = 19;
fl.append("tspan").text("Flux [erg s");
fl.append("tspan").attr("dy", -RISE).style("font-size", SUP + "px").text("\u22121");
fl.append("tspan").attr("dy", RISE).text(" cm");
fl.append("tspan").attr("dy", -RISE).style("font-size", SUP + "px").text("\u22122");
fl.append("tspan").attr("dy", RISE).text(" \u00C5");
fl.append("tspan").attr("dy", -RISE).style("font-size", SUP + "px").text("\u22121");
fl.append("tspan").attr("dy", RISE).text("]");

svg.append("text")
  .attr("transform", `translate(121,1331) rotate(-90)`)
  .attr("text-anchor", "middle")
  .style("font-family", FONT).style("font-size", FS + "px").attr("fill", "#000")
  .text(ratioLabel);

// panel annotation
const ann = svg.append("text").attr("x", 1467).attr("y", 366)
  .style("font-family", "'Liberation Serif', 'DejaVu Serif', serif")
  .style("font-size", "92px").style("font-weight", "bold").attr("fill", "#434343");
ann.append("tspan").text("Older pipeline");
ann.append("tspan").attr("x", 2079).attr("dy", -14).style("font-weight", "normal")
  .style("font-size", "70px").text("|");
ann.append("tspan").attr("x", 2135).attr("dy", 14)
  .attr("textLength", 174).attr("lengthAdjust", "spacingAndGlyphs").text("KPY");

// ---------------------------------------------------------------
// legend (3 columns, filled column-wise)
const leg = svg.append("g");
leg.append("rect").attr("x", 720.5).attr("y", 790).attr("width", 1777).attr("height", 211)
  .attr("rx", 10).attr("fill", "#ffffff").attr("stroke", "#d5d5d5").attr("stroke-width", 5);
const colX = [741, 1360, 1980];
const rowY = [843, 939];
labels.forEach((lab, i) => {
  const c = Math.floor(i / 2), r = i % 2;
  leg.append("line").attr("x1", colX[c]).attr("x2", colX[c] + 136)
    .attr("y1", rowY[r]).attr("y2", rowY[r])
    .attr("stroke", colors[i]).attr("stroke-width", 6);
  leg.append("text").attr("x", colX[c] + 187).attr("y", rowY[r] + 22)
    .style("font-family", FONT).style("font-size", FS + "px").attr("fill", "#000").text(lab);
});

// arrow pointing at the 05_15_01 spectrum
const arrow = svg.append("g").attr("fill", colors[4]).attr("stroke", colors[4]);
arrow.append("path")
  .attr("d", "M 2545 636 Q 2500 651 2474 674")
  .attr("fill", "none").attr("stroke-width", 6.5);
arrow.append("path")
  .attr("d", "M 2447 686 L 2468 654 L 2474 673 L 2486 683 Z")
  .attr("stroke-width", 1.5).attr("stroke-linejoin", "miter");
</script>
</body>
</html>
